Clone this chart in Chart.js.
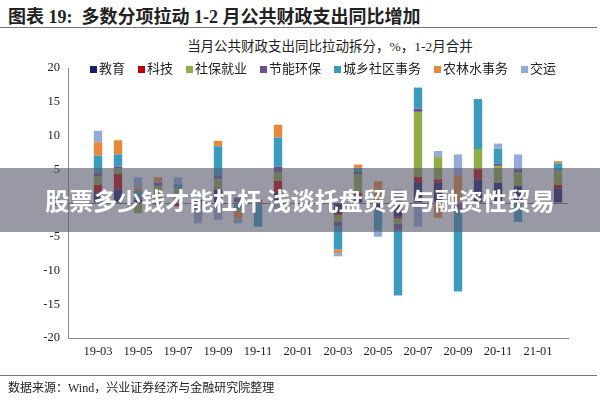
<!DOCTYPE html>
<html><head><meta charset="utf-8">
<script src="https://cdn.jsdelivr.net/npm/chart.js@4/dist/chart.umd.min.js"></script>
<style>
body{margin:0;width:600px;height:400px;background:#fff;position:relative;overflow:hidden;font-family:"Liberation Serif","Noto Sans CJK SC",serif}
#title{position:absolute;left:8px;top:2px;font-size:18px;font-weight:bold;color:#222;font-family:"Liberation Serif","Noto Sans CJK SC",serif}
#l1{position:absolute;left:0;top:27px;width:597px;height:1px;background:#777}
#l2{position:absolute;left:0;top:375px;width:597px;height:1px;background:#777}
#foot{position:absolute;left:8px;top:378px;font-size:12px;color:#222}
#sub{position:absolute;left:0;width:600px;text-align:center;top:35px;font-size:13.5px;padding-left:60px;box-sizing:border-box;color:#222}
#leg{position:absolute;left:90px;top:58px;font-size:13px;color:#222;white-space:nowrap}
#leg span{margin-right:13px}
#leg i{display:inline-block;width:7px;height:7px;margin-right:2px}
#band{position:absolute;left:0;top:168px;width:600px;height:64px;background:rgba(90,90,110,0.62);color:#fff;font-weight:bold;font-size:24px;text-align:center;line-height:64px;font-family:"Noto Sans CJK SC",sans-serif}
canvas{position:absolute;left:0;top:0}
</style></head><body>
<div id="title">图表 19:&nbsp; 多数分项拉动 1-2 月公共财政支出同比增加</div>
<div id="l1"></div>
<div id="sub">当月公共财政支出同比拉动拆分，%，1-2月合并</div>
<div style="position:absolute;left:0;top:0;width:600px;height:400px"><canvas id="c" width="600" height="400"></canvas></div>
<div id="leg"></div>
<div id="band">股票多少钱才能杠杆 浅谈托盘贸易与融资性贸易</div>
<div id="l2"></div>
<div id="foot">数据来源：Wind，兴业证券经济与金融研究院整理</div>
<script>
const categories=["19-02","19-03","19-04","19-05","19-06","19-07","19-08","19-09","19-10","19-11","19-12","20-01","20-02","20-03","20-04","20-05","20-06","20-07","20-08","20-09","20-10","20-11","20-12","21-01","21-02"];
const seriesNames=["教育","科技","社保就业","节能环保","城乡社区事务","农林水事务","交运"];
const colors=["#1b1b6b","#c00000","#8fae45","#6d4f96","#3a9bbd","#e8883a","#93abd6"];
const edu =[null,1.5,2.0,0.5,0.5,0,0.5,2.0,0,0,1.5,null,null,-1.5,1.0,-1.0,-2.0,3.1,3.0,0,3.5,3.0,2.5,null,2.2];
const tech=[null,1.2,2.3,0,0,-0.5,0,0,0,0.5,1.8,null,null,-0.3,0.5,0,-0.3,0.8,0.5,0,1.5,0,0,null,0.5];
const soc =[null,1.2,0.8,-1.5,2.0,2.0,0,1.5,0,0,1.3,null,null,-1.0,2.8,0,-0.8,9.6,3.3,0,3.0,2.5,2.0,null,2.0];
const env =[null,0.5,0.3,0.3,0.5,0,-1.0,0.5,0.8,0,0.8,null,null,-0.7,0.3,0,-1.0,0.5,0,-1.0,0,0.3,0.5,null,0];
const urb =[null,2.6,1.8,1.0,-0.3,0.8,0,4.4,-1.0,-3.5,4.3,null,null,-3.4,0.6,-3.0,-9.6,3.1,0,-12.1,7.4,2.2,-2.8,null,1.2];
const agr =[null,2.0,2.1,0.5,0.8,0,0,0.8,-1.3,0,1.9,null,null,-0.5,0.5,3.2,0,0,-2.2,4.1,0,0,0,null,0.3];
const tra =[null,1.7,0,1.5,0,1.0,-2.0,-2.5,-0.7,0,-0.9,null,null,-0.5,0,-1.0,2.0,-3.5,0.9,3.1,0,0.8,2.2,null,0];
const tickLabels=[-20,-15,-10,-5,0,5,10,15,20];
const all=[edu,tech,soc,env,urb,agr,tra];
document.getElementById('leg').innerHTML=seriesNames.map((n,i)=>`<span><i style="background:${colors[i]}"></i>${n}</span>`).join('');
new Chart(document.getElementById('c'),{
 type:'bar',
 data:{labels:categories,datasets:all.map((d,i)=>({label:seriesNames[i],data:d,backgroundColor:colors[i],barPercentage:0.42,categoryPercentage:1}))},
 options:{responsive:false,animation:false,
  layout:{padding:{top:68,right:32,bottom:40,left:0}},
  plugins:{legend:{display:false},tooltip:{enabled:false}},
  scales:{
   x:{stacked:true,grid:{display:false,drawTicks:false},border:{color:'#888'},
      ticks:{autoSkip:false,maxRotation:0,color:'#222',font:{family:'Liberation Serif',size:12.5},padding:6,
        callback:(v,i)=>i%2===1?categories[i]:''},
      afterFit:s=>{s.height=22}},
   y:{stacked:true,min:-20,max:20,
      ticks:{stepSize:5,color:'#222',font:{family:'Liberation Serif',size:12.5},padding:8},
      grid:{drawTicks:false,drawOnChartArea:true,color:c=>c.tick&&c.tick.value===0?'#777':'rgba(0,0,0,0)'},
      border:{color:'#888'},
      afterFit:s=>{s.width=68}}
  }}
});
</script>
</body></html>
